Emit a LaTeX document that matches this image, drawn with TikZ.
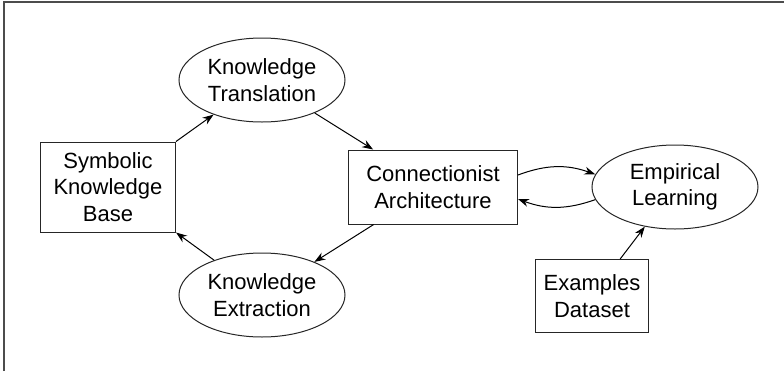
\documentclass[tikz,border=0pt]{standalone}
\usepackage{fontspec}
\setmainfont{Liberation Sans}
\usetikzlibrary{positioning, arrows.meta, shapes.geometric}

\begin{document}
\begin{tikzpicture}[
boxnode/.style={rectangle, draw=black!85, line width=0.5pt, align=center, font=\fontsize{11}{13.2}\selectfont},
ovalnode/.style={ellipse, draw=black!85, line width=0.5pt, align=center, inner sep=1pt, minimum width=83pt, minimum height=42pt, font=\fontsize{11}{13.2}\selectfont},
arr/.style={-{Stealth[length=5.5pt, width=4pt]}, line width=0.5pt},
]
\useasboundingbox (-54pt,-92pt) rectangle (338pt,93.5pt);
\draw[line width=0.7pt, black!70] (-52pt,-92pt) -- (-52pt,92.5pt) -- (338pt,92.5pt);

\node[boxnode, minimum width=67.5pt, minimum height=45pt]   (skb)                          {Symbolic\\Knowledge\\Base};
\node[boxnode, minimum width=84.5pt, minimum height=37pt]   (ca)   [right=86pt of skb]     {Connectionist\\Architecture};
\node[ovalnode]                                             (el)   [right=36.75pt of ca]   {Empirical\\Learning};
\node[ovalnode]                                             (kt)   at (77pt,53.5pt)        {Knowledge\\Translation};
\node[ovalnode]                                             (ke)   [below=65pt of kt]      {Knowledge\\Extraction};
\node[boxnode, minimum width=56.5pt, minimum height=36.5pt] (ed)   [xshift=-41.5pt, below=14.75pt of el] {Examples\\Dataset};

\draw[arr] (skb.north east) -- (kt);
\draw[arr] (kt) -- (ca);
\draw[arr] (ca) -- (ke);
\draw[arr] (ke) -- (skb.south east);

% loop between the network and the learning step
\draw[arr] ([yshift=6pt]ca.east) to[bend left=20] (el.171);
\draw[arr] (el.189) to[bend left=20] ([yshift=-6pt]ca.east);

\draw[arr] (ed) -- (el);

\end{tikzpicture}
\end{document}
